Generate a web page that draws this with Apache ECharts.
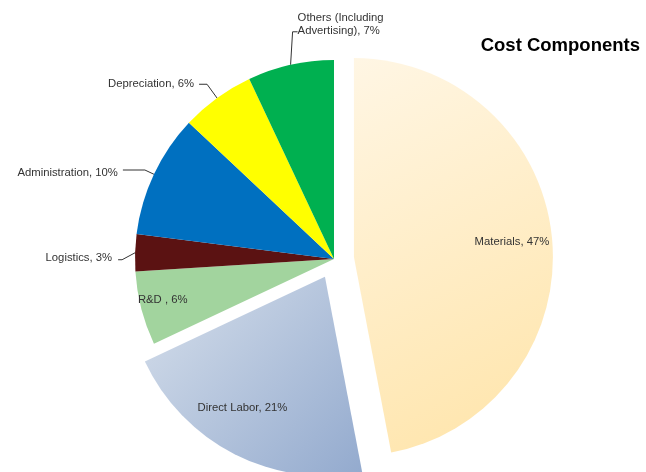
<!DOCTYPE html>
<html><head><meta charset="utf-8">
<script src="https://cdn.jsdelivr.net/npm/echarts@6/dist/echarts.min.js"></script>
<style>html,body{margin:0;padding:0;background:#fff}#c{width:646px;height:472px}</style>
</head><body><div id="c"></div>
<script>
const categories = ['Materials', 'Direct Labor', 'R&D ', 'Logistics', 'Administration', 'Depreciation', 'Others (Including\nAdvertising)'];
const values = [47, 21, 6, 3, 10, 6, 7];
const exploded = [true, true, false, false, false, false, false];
const insideLabel = [true, true, true, false, false, false, false];

const colors = [
  {type:'linear',x:0,y:0,x2:1,y2:1,colorStops:[{offset:0,color:'#FFF6E4'},{offset:1,color:'#FFE4A8'}]},
  {type:'linear',x:0,y:0,x2:1,y2:1,colorStops:[{offset:0,color:'#D6DFEB'},{offset:1,color:'#93AACE'}]},
  '#A2D49E', '#5B1212', '#0070C0', '#FFFF00', '#00B050'
];
const labelShift = [[56,-6],[-36,40],[-72,15],[6,5],[0,3],[0,0],[24,-9]];
const lineLen = [0,0,0,6,10,17,32];
const lineLen2 = [0,0,0,18,22,8,5];

const data = categories.map((n,i)=>({
  name:n, value:values[i], selected:exploded[i],
  itemStyle:{color:colors[i]},
  label: insideLabel[i] ? {position:'inside'} : {position:'outside'},
  labelLine: insideLabel[i] ? {show:false} : {show:true, length:lineLen[i], length2:lineLen2[i]}
}));

const chart = echarts.init(document.getElementById('c'));
chart.setOption({
  animation:false,
  title:{text:'Cost Components', right:1, top:31, textStyle:{fontFamily:'Liberation Sans, Arial', fontSize:18.5, fontWeight:'bold', color:'#000'}},
  series:[{
    type:'pie',
    center:[334,259],
    radius:199,
    startAngle:90,
    clockwise:true,
    selectedMode:'multiple',
    selectedOffset:20,
    avoidLabelOverlap:false,
    label:{formatter:'{b}, {c}%', fontFamily:'Liberation Sans, Arial', fontSize:11.3, color:'#333', lineHeight:13},
    labelLine:{lineStyle:{color:'#333', width:1}},
    labelLayout:function(p){
      const s = labelShift[p.dataIndex];
      const o = {dx:s[0], dy:s[1]};
      const pts = p.labelLinePoints;
      if (p.dataIndex === 6) {
        o.align = 'left';
        if (pts && pts.length) {
          const e = pts[0];
          const m = [e[0]+2, e[1]-33];
          o.labelLinePoints = [e, m, [m[0]+5, m[1]]];
        }
      }
      if (p.dataIndex === 3 && pts && pts.length) {
        const e = pts[0];
        const m = [e[0]-13, e[1]+7];
        o.labelLinePoints = [e, m, [m[0]-4, m[1]]];
      }
      return o;
    },
    emphasis:{disabled:true},
    data:data
  }]
});
</script></body></html>
